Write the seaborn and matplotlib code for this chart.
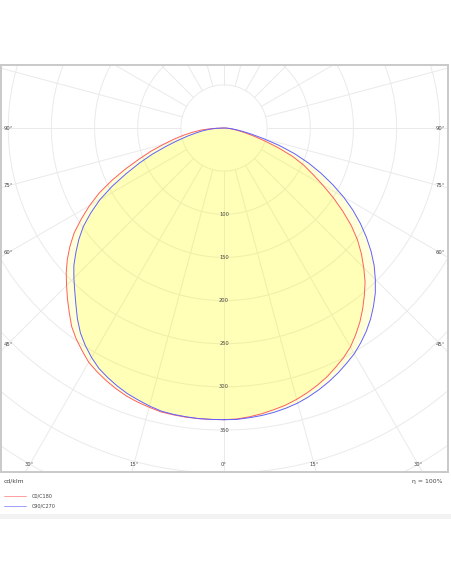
import numpy as np
import pandas as pd
import matplotlib
matplotlib.use("Agg")
import matplotlib.pyplot as plt
from matplotlib.lines import Line2D
from matplotlib.patches import Rectangle
import seaborn as sns

sns.set_style("white")
plt.rcParams['font.family'] = ['DejaVu Sans']

# ---- data (cd/klm), gamma in degrees from nadir ----
gamma = [0, 2.5, 5, 7.5, 10, 12.5, 15, 17.5, 20, 22.5, 25, 27.5, 30, 32.5, 35, 37.5,
         40, 42.5, 45, 47.5, 50, 52.5, 55, 57.5, 60, 62.5, 65, 67.5, 70, 72.5, 75,
         77.5, 80, 82.5, 85, 87.5, 90]
c0 = [338, 337.5, 336, 334, 331.5, 329, 325.5, 321.5, 317, 312, 306, 300, 293, 284,
      274.5, 264, 253, 242, 229, 216, 202, 186, 168, 150, 132, 116, 102, 86, 67, 49,
      35, 24, 16, 10, 6, 3, 0]
c180 = [338, 338, 338, 338, 337.5, 337, 335, 333, 330.5, 327, 323, 318.5, 313.5, 306,
        298.5, 290, 279, 268.5, 258, 248, 237, 225, 212, 196, 180, 163, 143, 123, 104,
        88, 72, 59, 47, 36, 26, 14, 0]
c90 = [338, 338, 337, 336, 334.5, 332.5, 330, 326.5, 322.5, 318, 313, 307.5, 302, 295,
       287.5, 279, 269.5, 259.5, 248, 236, 222.5, 208, 193, 177, 160, 142, 124, 106,
       87, 67, 47, 32, 21, 13, 7, 3, 0]
c270 = [338, 338, 338, 337.5, 337, 336, 333.5, 330.5, 327.5, 323.5, 319, 314, 307, 299,
        290, 279, 267, 256, 246, 236, 224, 212, 199, 183, 166, 146, 125, 106, 88, 70,
        55, 43, 33, 25, 17, 9, 0]
ring_values = [100, 150, 200, 250, 300, 350]
angle_labels = [90, 75, 60, 45, 30, 15, 0]
legend_labels = ["C0/C180", "C90/C270"]
unit_label = "cd/klm"
eta_label = "η = 100%"

RED = "#ff5e5e"
BLUE = "#6060ff"
GRID = "#eaeaea"
TXT = "#444444"

W, H = 452, 584
fig = plt.figure(figsize=(W / 100, H / 100), dpi=100)
fig.patch.set_facecolor("white")

# frame in pixels
fx0, fx1, fy0, fy1 = 1, 448, 65, 472
cx, cy = 224, 128
s = 0.863  # px per cd/klm
ax = fig.add_axes([fx0 / W, (H - fy1) / H, (fx1 - fx0) / W, (fy1 - fy0) / H])
ax.set_xlim((fx0 - cx) / s, (fx1 - cx) / s)
ax.set_ylim(-(fy1 - cy) / s, (cy - fy0) / s)
ax.set_xticks([])
ax.set_yticks([])
for sp in ax.spines.values():
    sp.set_color("#c9c9c9")
    sp.set_linewidth(1.4)
ax.set_facecolor("white")

# grid circles
t = np.linspace(0, 2 * np.pi, 400)
for r in range(50, 551, 50):
    ax.plot(r * np.cos(t), r * np.sin(t), color=GRID, lw=0.7, zorder=1)
# radial lines every 15 degrees
for a in range(0, 360, 15):
    ar = np.deg2rad(a)
    ax.plot([50 * np.sin(ar), 700 * np.sin(ar)], [-50 * np.cos(ar), -700 * np.cos(ar)],
            color=GRID, lw=0.7, zorder=1)


def polygon(right, left):
    g = np.deg2rad(np.array(gamma, dtype=float))
    r = np.array(right, dtype=float)
    l = np.array(left, dtype=float)
    xs = np.concatenate([r * np.sin(g), (-l * np.sin(g))[::-1]])
    ys = np.concatenate([-r * np.cos(g), (-l * np.cos(g))[::-1]])
    return xs, ys


for right, left, col in [(c0, c180, RED), (c90, c270, BLUE)]:
    xs, ys = polygon(right, left)
    ax.fill(xs, ys, color="#ffff00", alpha=0.15, lw=0, zorder=2)
    df = pd.DataFrame({"x": xs, "y": ys})
    sns.lineplot(data=df, x="x", y="y", sort=False, estimator=None, color=col, lw=0.7,
                 ax=ax, zorder=3)
ax.set_xlabel("")
ax.set_ylabel("")

# ring labels
for r in ring_values:
    ax.text(0, -r, str(r), ha="center", va="center", fontsize=3.7, color=TXT, zorder=4)

# angle labels on inner rectangle
side_x = (cx - 8) / s
bottom_y = (465 - cy) / s
for a in angle_labels:
    ar = np.deg2rad(a)
    if a == 90:
        px, py = side_x, 0.0
    else:
        ys_side = side_x / np.tan(ar)
        if ys_side <= bottom_y:
            px, py = side_x, -ys_side
        else:
            px, py = bottom_y * np.tan(ar), -bottom_y
    for sgn in ([1, -1] if a != 0 else [1]):
        ax.text(sgn * px, py, f"{a}°", ha="center", va="center", fontsize=3.8,
                color=TXT, zorder=4)


def fx(px):
    return px / W


def fy(py):
    return 1 - py / H


fig.text(fx(4), fy(481), unit_label, ha="left", va="center", fontsize=4.4, color=TXT)
fig.text(fx(443), fy(481), eta_label, ha="right", va="center", fontsize=4.4, color=TXT)
for i, (lab, col) in enumerate(zip(legend_labels, [RED, BLUE])):
    yy = 496 + 10 * i
    fig.add_artist(Line2D([fx(4), fx(26)], [fy(yy), fy(yy)], color=col, lw=0.6, alpha=0.7))
    fig.text(fx(32), fy(yy), lab, ha="left", va="center", fontsize=3.5, color=TXT)

# light strip under the panel
fig.add_artist(Rectangle((0, fy(519)), 1, (519 - 514) / H, transform=fig.transFigure,
                         facecolor="#f2f2f2", edgecolor="none"))

fig.savefig("out.png", dpi=100, facecolor="white")
